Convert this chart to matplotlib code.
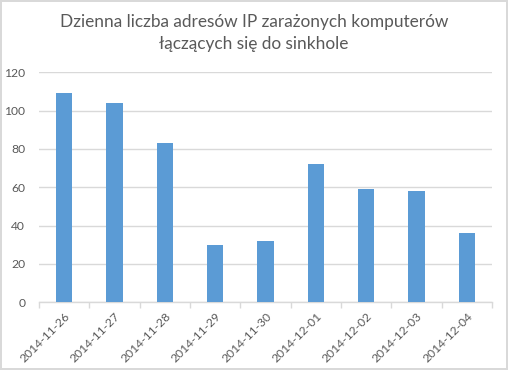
import matplotlib.pyplot as plt
import numpy as np

# Daily counts
dates = ['2014-11-26', '2014-11-27', '2014-11-28', '2014-11-29', '2014-11-30',
         '2014-12-01', '2014-12-02', '2014-12-03', '2014-12-04']
counts = [109, 104, 83, 30, 32, 72, 59, 58, 36]
y_ticks = [0, 20, 40, 60, 80, 100, 120]

title = 'Dzienna liczba adresów IP zarażonych komputerów\nłączących się do sinkhole'

plt.rcParams['font.family'] = ['Lato', 'DejaVu Sans']

fig = plt.figure(figsize=(5.08, 3.70), dpi=100)
fig.patch.set_edgecolor('#d9d9d9')
fig.patch.set_linewidth(1.5)
ax = fig.add_axes([0.0768, 0.183, 0.8917, 0.6216])

x = np.arange(len(dates))
ax.bar(x, counts, width=0.32, color='#5b9bd5', zorder=3)

ax.set_xlim(-0.5, len(dates) - 0.5)
ax.set_ylim(0, 120)
ax.set_yticks(y_ticks)
ax.grid(axis='y', color='#d9d9d9', linewidth=1, zorder=0)

for side in ['top', 'right', 'left']:
    ax.spines[side].set_visible(False)
ax.spines['bottom'].set_color('#d9d9d9')
ax.spines['bottom'].set_linewidth(1)

ax.set_xticks(x)
ax.set_xticklabels(dates, rotation=45, ha='right', rotation_mode='anchor',
                   fontsize=8.7, color='#595959')
ax.set_xticks(np.arange(-0.5, len(dates), 1), minor=True)
ax.tick_params(axis='x', which='major', length=0, pad=6)
ax.tick_params(axis='x', which='minor', length=4, color='#d9d9d9', width=1)
ax.tick_params(axis='y', length=0, labelsize=8.7, labelcolor='#595959', pad=10)

fig.text(0.5, 0.962, title, ha='center', va='top', fontsize=12.4,
         color='#595959', linespacing=1.45)

plt.savefig('out.png', dpi=100)
